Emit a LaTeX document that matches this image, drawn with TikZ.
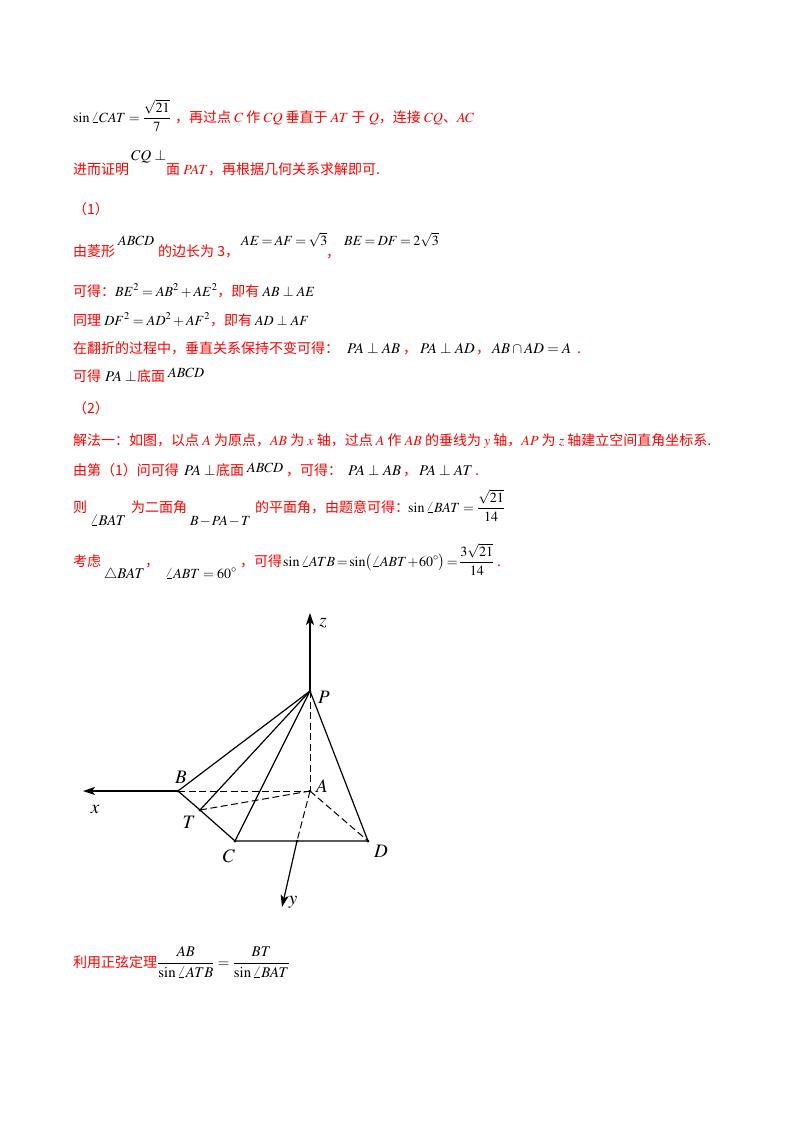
\documentclass[tikz,border=0pt]{standalone}
\usepackage{amsmath}
\usepackage{mathptmx}
\usepackage[no-math]{fontspec}
\setmainfont{Noto Sans CJK SC}
\usetikzlibrary{arrows.meta}
\newcommand{\bk}[1]{\textcolor{black}{$#1$}}
\tikzset{
	linetext/.style={anchor=base west, inner sep=0pt, text=red, font=\fontsize{14}{16}\selectfont},
	mathtext/.style={anchor=base west, inner sep=0pt, text=black, font=\fontsize{14}{16}\selectfont},
	widemath/.style={mathtext, font=\fontsize{14.8}{16}\selectfont},
	pointlabel/.style={inner sep=0pt, text=black, font=\fontsize{19}{21}\selectfont},
	edge/.style={line width=1.2pt},
	hidden/.style={line width=1pt, dash pattern=on 7pt off 3.5pt},
	axis/.style={line width=1.2pt, -{Stealth[length=12pt,width=8pt,inset=3pt]}},
	pointdot/.style={fill=black}
}
\begin{document}
\begin{tikzpicture}[x=1pt,y=-1pt]
	\useasboundingbox[fill=white] (0,0) rectangle (800,1132);
	% text above the figure
	\node[mathtext] (a1) at (73,122) {$\sin\angle CAT=\dfrac{\sqrt{21}}{7}$};
	\node[linetext] (a2) at (175,122) {，再过点 $C$ 作 $CQ$ 垂直于 $AT$ 于 $Q$，连接 $CQ$、$AC$};
	\node[linetext] (b1) at (73,174) {进而证明};
	\node[widemath] (b2) at (131,160) {$CQ\perp$};
	\node[linetext] (b3) at (166,174) {面 $PAT$，再根据几何关系求解即可.};
	\node[linetext] (c1) at (73,214) {（1）};
	\node[linetext] (d1) at (73,256) {由菱形};
	\node[mathtext] (d2) at (118,245) {$ABCD$};
	\node[linetext] (d3) at (158,256) {的边长为 3，};
	\node[mathtext] (d4) at (241,245) {\thickmuskip=3mu$AE=AF=\sqrt{3}$};
	\node[linetext] (d5) at (326,257) {，};
	\node[mathtext] (d6) at (344,245) {\thickmuskip=3mu$BE=DF=2\sqrt{3}$};
	\node[linetext] (e1) at (73,296) {可得：\bk{BE^2=AB^2+AE^2}，即有 \bk{AB\perp AE}};
	\node[linetext] (f1) at (73,325) {同理 \bk{DF^2=AD^2+AF^2}，即有 \bk{AD\perp AF}};
	\node[linetext] (g1) at (73,353) {在翻折的过程中，垂直关系保持不变可得：};
	\node[widemath] (g2) at (347,353) {$PA\perp AB$};
	\node[linetext] (g3) at (403,353) {，};
	\node[widemath] (g4) at (420,353) {$PA\perp AD$};
	\node[linetext] (g5) at (476,353) {，};
	\node[widemath] (g6) at (492,353) {$AB\cap AD=A$};
	\node[linetext] (g7) at (577,353) {.};
	\node[linetext] (h1) at (73,381) {可得};
	\node[widemath] (h2) at (105,381) {$PA\perp$};
	\node[linetext] (h3) at (137,381) {底面};
	\node[mathtext] (h4) at (168,377) {$ABCD$};
	\node[linetext] (i1) at (73,413) {（2）};
	\node[linetext] (j1) at (73,445) {解法一：如图，以点 $A$ 为原点，$AB$ 为 $x$ 轴，过点 $A$ 作 $AB$ 的垂线为 $y$ 轴，$AP$ 为 $z$ 轴建立空间直角坐标系.};
	\node[linetext] (k1) at (73,475) {由第（1）问可得};
	\node[widemath] (k2) at (184,475) {$PA\perp$};
	\node[linetext] (k3) at (216,475) {底面};
	\node[mathtext] (k4) at (247,472) {$ABCD$};
	\node[linetext] (k5) at (286,475) {，可得：};
	\node[widemath] (k6) at (348,475) {$PA\perp AB$};
	\node[linetext] (k7) at (403,475) {，};
	\node[widemath] (k8) at (419,475) {$PA\perp AT$};
	\node[linetext] (k9) at (475,475) {.};
	\node[linetext] (l1) at (73,512) {则};
	\node[widemath] (l2) at (90,525) {$\angle BAT$};
	\node[linetext] (l3) at (131,512) {为二面角};
	\node[mathtext] (l4) at (190,525) {\medmuskip=1.5mu$B-PA-T$};
	\node[linetext] (l5) at (255,512) {的平面角，由题意可得：};
	\node[mathtext] (l6) at (408,512) {$\sin\angle BAT=\dfrac{\sqrt{21}}{14}$};
	\node[linetext] (m1) at (73,566) {考虑};
	\node[widemath] (m2) at (104,578) {$\triangle BAT$};
	\node[linetext] (m3) at (145,566) {，};
	\node[mathtext] (m4) at (165,578) {$\angle ABT=60^\circ$};
	\node[linetext] (m5) at (240,566) {，可得};
	\node[mathtext] (m6) at (283,566) {\thickmuskip=2mu\medmuskip=1mu$\sin\angle ATB=\sin\bigl(\angle ABT+60^\circ\bigr)=\dfrac{3\sqrt{21}}{14}$};
	\node[linetext] (m7) at (497,566) {.};
	% the pyramid
	\coordinate (P) at (310,691);
	\coordinate (A) at (310,791);
	\coordinate (B) at (178,791);
	\coordinate (T) at (200,810);
	\coordinate (C) at (235,841);
	\coordinate (D) at (368,841);
	\coordinate (Y) at (297,841);
	\coordinate (xend) at (83,791);
	\coordinate (yend) at (282,907);
	\coordinate (zend) at (310,613);
	\draw[edge] (P) -- (B) -- (T) -- (C) -- (D) -- (P);
	\draw[edge] (P) -- (T);
	\draw[edge] (P) -- (C);
	\draw[hidden] (P) -- (A);
	\draw[hidden] (B) -- (A);
	\draw[hidden] (T) -- (A);
	\draw[hidden] (A) -- (D);
	\draw[hidden] (A) -- (Y);
	\draw[axis] (B) -- (xend);
	\draw[axis] (Y) -- (yend);
	\draw[axis] (P) -- (zend);
	\foreach \pt in {P,A,B,T,C,D,Y}
		\fill[pointdot] (\pt) circle (1.5pt);
	\node[pointlabel] (labP) at (324,697) {$P$};
	\node[pointlabel] (labA) at (322,786) {$A$};
	\node[pointlabel] (labB) at (181,777) {$B$};
	\node[pointlabel] (labT) at (189,822) {$T$};
	\node[pointlabel] (labC) at (229,856) {$C$};
	\node[pointlabel] (labD) at (381,851) {$D$};
	\node[pointlabel] (labx) at (95,809) {$x$};
	\node[pointlabel] (laby) at (293,902) {$y$};
	\node[pointlabel] (labz) at (323,623) {$z$};
	% text below the figure
	\node[linetext] (n1) at (73,967) {利用正弦定理};
	\node[widemath] (n2) at (157,967) {$\dfrac{AB}{\sin\angle ATB}=\dfrac{BT}{\sin\angle BAT}$};
\end{tikzpicture}
\end{document}
